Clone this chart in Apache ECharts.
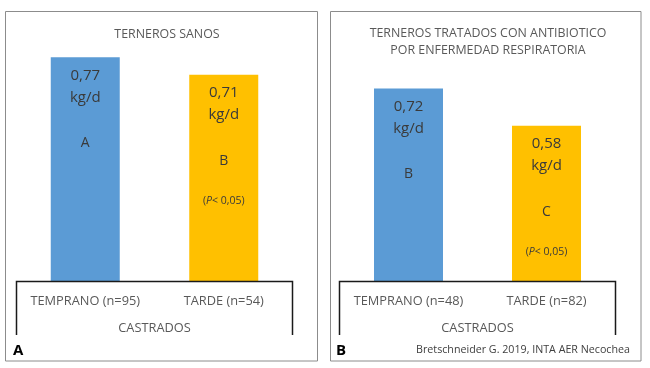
<!DOCTYPE html>
<html>
<head>
<meta charset="utf-8">
<script src="https://cdn.jsdelivr.net/npm/echarts@6/dist/echarts.min.js"></script>
<style>
html,body{margin:0;padding:0;background:#fff;}
#c{width:650px;height:368px;}
</style>
</head>
<body>
<div id="c"></div>
<script>
// Data
var categoriesA = ['TEMPRANO (n=95)', 'TARDE (n=54)'];
var valuesA = [0.77, 0.71];
var lettersA = ['A', 'B'];
var notesA = ['', '(P< 0,05)'];

var categoriesB = ['TEMPRANO (n=48)', 'TARDE (n=82)'];
var valuesB = [0.72, 0.58];
var lettersB = ['B', 'C'];
var notesB = ['', '(P< 0,05)'];

var titleA = 'TERNEROS SANOS';
var titleB = 'TERNEROS TRATADOS CON ANTIBIOTICO\nPOR ENFERMEDAD RESPIRATORIA';
var groupName = 'CASTRADOS';
var panelLetters = ['A', 'B'];
var credit = 'Bretschneider G. 2019, INTA AER Necochea';

var barColors = ['#5B9BD5', '#FFC000'];
var FONT = 'Open Sans';

function makeLabel(letters, notes) {
  return {
    show: true,
    position: 'insideTop',
    distance: 7,
    fontFamily: FONT,
    formatter: function (p) {
      var v = p.value.toFixed(2).replace('.', ',');
      var s = '{v|' + v + '}\n{v|kg/d}\n{l|' + letters[p.dataIndex] + '}';
      if (notes[p.dataIndex]) {
        s += '\n{p|(}{pi|P}{p|< 0,05)}';
      }
      return s;
    },
    rich: {
      v: { fontSize: 15, lineHeight: 22, color: '#3a3a3a', fontFamily: FONT, align: 'center' },
      l: { fontSize: 14, lineHeight: 70, color: '#3a3a3a', fontFamily: FONT, align: 'center' },
      p: { fontSize: 10.5, lineHeight: 10, color: '#3a3a3a', fontFamily: FONT },
      pi: { fontSize: 10.5, lineHeight: 10, color: '#3a3a3a', fontFamily: FONT, fontStyle: 'italic' }
    }
  };
}

function makeData(values) {
  return values.map(function (v, i) {
    return { value: v, itemStyle: { color: barColors[i] } };
  });
}

var xAxisCommon = {
  type: 'category',
  axisTick: { show: false },
  axisLine: { show: false },
  axisLabel: { color: '#595959', fontSize: 12.8, fontFamily: FONT, margin: 14, interval: 0, hideOverlap: false },
  name: groupName,
  nameLocation: 'middle',
  nameGap: 41,
  nameTextStyle: { color: '#595959', fontSize: 12.8, fontFamily: FONT }
};

var chart = echarts.init(document.getElementById('c'), null, { renderer: 'canvas' });
chart.setOption({
  backgroundColor: '#ffffff',
  animation: false,
  title: [
    { text: titleA, left: 162, top: 20.5, textAlign: 'center',
      textStyle: { fontSize: 12.4, fontWeight: 'normal', color: '#595959', fontFamily: FONT, lineHeight: 17 } },
    { text: titleB, left: 483, top: 20, textAlign: 'center',
      textStyle: { fontSize: 12.4, fontWeight: 'normal', color: '#595959', fontFamily: FONT, lineHeight: 17 } }
  ],
  grid: [
    { left: 16, width: 277, top: 48.6, bottom: 87 },
    { left: 339.5, width: 276, top: 67, bottom: 87 }
  ],
  xAxis: [
    Object.assign({}, xAxisCommon, { gridIndex: 0, data: categoriesA }),
    Object.assign({}, xAxisCommon, { gridIndex: 1, data: categoriesB })
  ],
  yAxis: [
    { type: 'value', gridIndex: 0, min: 0, max: 0.8, show: false },
    { type: 'value', gridIndex: 1, min: 0, max: 0.8, show: false }
  ],
  series: [
    { type: 'bar', xAxisIndex: 0, yAxisIndex: 0, barWidth: 69,
      data: makeData(valuesA), label: makeLabel(lettersA, notesA) },
    { type: 'bar', xAxisIndex: 1, yAxisIndex: 1, barWidth: 69,
      data: makeData(valuesB), label: makeLabel(lettersB, notesB) }
  ],
  graphic: [
    { type: 'rect', shape: { x: 5.5, y: 11.5, width: 312, height: 349.5 }, style: { fill: null, stroke: '#8c8c8c', lineWidth: 1 }, z: 100 },
    { type: 'rect', shape: { x: 330.5, y: 11.5, width: 310.5, height: 349.5 }, style: { fill: null, stroke: '#8c8c8c', lineWidth: 1 }, z: 100 },
    { type: 'polyline', shape: { points: [[16.5, 335], [16.5, 281.5], [292.5, 281.5], [292.5, 335]] }, style: { fill: null, stroke: '#1a1a1a', lineWidth: 1.5 }, z: 100 },
    { type: 'polyline', shape: { points: [[339.5, 335], [339.5, 281.5], [615.5, 281.5], [615.5, 335]] }, style: { fill: null, stroke: '#1a1a1a', lineWidth: 1.5 }, z: 100 },
    { type: 'text', x: 13, y: 343, style: { text: panelLetters[0], font: 'bold 15px ' + FONT, fill: '#000' }, z: 100 },
    { type: 'text', x: 336, y: 343, style: { text: panelLetters[1], font: 'bold 15px ' + FONT, fill: '#000' }, z: 100 },
    { type: 'text', x: 523, y: 350, style: { text: credit, font: '10.7px ' + FONT, fill: '#404040', align: 'center', verticalAlign: 'middle' }, z: 100 }
  ]
});
</script>
</body>
</html>
